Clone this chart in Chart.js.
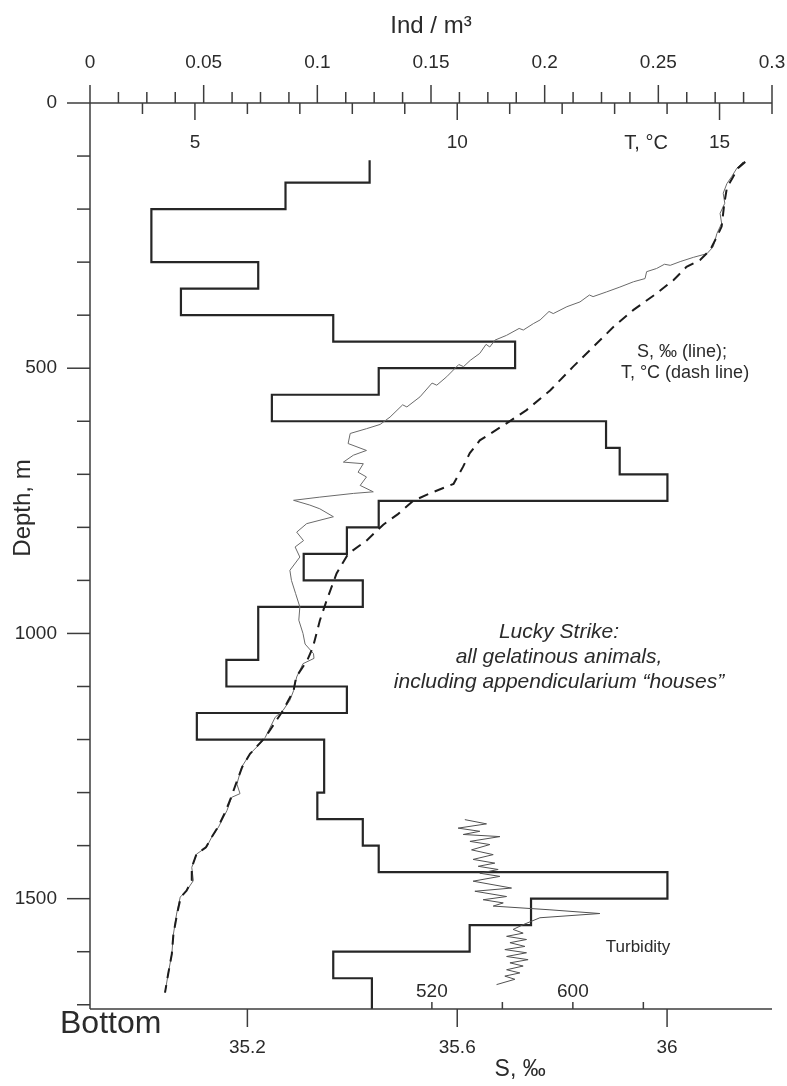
<!DOCTYPE html>
<html>
<head>
<meta charset="utf-8">
<script src="https://cdn.jsdelivr.net/npm/chart.js@4.4.1/dist/chart.umd.min.js"></script>
<style>
  html, body { margin: 0; padding: 0; background: #fff; }
  canvas { display: block; }
</style>
</head>
<body>
<canvas id="profile" width="787" height="1086"></canvas>
<script>
// Gelatinous animals, Ind/m³, per depth layer (top of each layer, m)
const binTops = [108, 150, 200, 300, 350, 400, 450, 500, 550, 600, 650, 700, 750, 800, 850,
                 900, 950, 1050, 1100, 1150, 1200, 1300, 1350, 1400, 1450, 1500, 1550, 1600, 1650];
const binBottom = 1708;
const indValues = [0.123, 0.086, 0.027, 0.074, 0.040, 0.107, 0.187, 0.127, 0.080, 0.227, 0.233, 0.254, 0.127, 0.113, 0.094,
                   0.120, 0.074, 0.060, 0.113, 0.047, 0.103, 0.100, 0.120, 0.127, 0.254, 0.194, 0.167, 0.107, 0.124];

// Salinity profile, ‰
const salDepth = [111, 123, 139, 152, 170, 189, 208, 227, 246, 271, 284, 291, 299, 306, 304, 312, 318, 331, 337, 347,
                  356, 365, 362, 375, 384, 397, 393, 409, 416, 428, 425, 438, 447, 460, 455, 472, 485, 497, 493, 516,
                  532, 528, 554, 573, 569, 592, 606, 614, 623, 642, 655, 664, 677, 680, 696, 705, 721, 733, 736, 743,
                  749, 758, 765, 780, 793, 809, 825, 837, 856, 881, 900, 925, 950, 975, 1000, 1020, 1038, 1047, 1057, 1082,
                  1108, 1126, 1145, 1158, 1196, 1208, 1227, 1252, 1284, 1302, 1309, 1334, 1365, 1384, 1403, 1416, 1441, 1466, 1485, 1497,
                  1529, 1567, 1604, 1642, 1677];
const salValues = [36.145, 36.133, 36.123, 36.114, 36.107, 36.110, 36.101, 36.104, 36.095, 36.088, 36.076, 36.050, 36.025, 36.006, 35.995, 35.980, 35.961, 35.958, 35.936, 35.910,
                   35.885, 35.859, 35.852, 35.834, 35.809, 35.783, 35.775, 35.758, 35.745, 35.726, 35.718, 35.694, 35.672, 35.662, 35.655, 35.643, 35.625, 35.612, 35.603, 35.580,
                   35.561, 35.552, 35.529, 35.504, 35.496, 35.472, 35.453, 35.427, 35.396, 35.392, 35.427, 35.402, 35.383, 35.421, 35.411, 35.427, 35.415, 35.440, 35.402, 35.338,
                   35.288, 35.319, 35.338, 35.364, 35.313, 35.294, 35.307, 35.291, 35.300, 35.281, 35.284, 35.292, 35.300, 35.298, 35.306, 35.310, 35.326, 35.327, 35.306, 35.294,
                   35.288, 35.281, 35.268, 35.253, 35.234, 35.224, 35.205, 35.189, 35.180, 35.186, 35.170, 35.161, 35.145, 35.132, 35.122, 35.103, 35.094, 35.097, 35.084, 35.072,
                   35.065, 35.059, 35.056, 35.049, 35.043];

// Temperature profile, °C
const tempDepth = [111, 123, 139, 160, 190, 233, 252, 277, 296, 309, 334, 359, 390, 422, 460, 497, 542, 579, 604, 636,
                   660, 686, 718, 736, 750, 775, 795, 825, 850, 887, 938, 976, 1026, 1051, 1082, 1108, 1145, 1196, 1227, 1252,
                   1284, 1309, 1334, 1365, 1384, 1403, 1416, 1441, 1466, 1485, 1497, 1529, 1567, 1604, 1642, 1677];
const tempValues = [15.49, 15.35, 15.26, 15.14, 15.09, 15.04, 14.95, 14.82, 14.63, 14.37, 14.12, 13.80, 13.36, 12.98, 12.59, 12.21, 11.77, 11.32, 10.94, 10.43,
                    10.24, 10.11, 9.93, 9.48, 9.16, 8.87, 8.59, 8.27, 7.92, 7.70, 7.51, 7.38, 7.25, 7.14, 6.93, 6.88, 6.68, 6.34, 6.05, 5.90,
                    5.78, 5.69, 5.59, 5.44, 5.32, 5.21, 5.03, 4.94, 4.94, 4.84, 4.73, 4.66, 4.59, 4.56, 4.49, 4.43];

// Turbidity near the bottom
const turbDepth = [1351, 1359, 1367, 1373, 1379, 1383, 1392, 1398, 1408, 1417, 1426, 1433, 1439, 1445, 1452, 1458, 1467, 1480, 1486, 1496,
                   1502, 1508, 1514, 1521, 1528, 1536, 1549, 1558, 1565, 1571, 1577, 1583, 1590, 1596, 1602, 1609, 1615, 1621, 1627, 1634,
                   1640, 1646, 1652, 1662];
const turbValues = [538.7, 551.0, 534.9, 547.2, 537.8, 558.6, 541.6, 552.9, 542.5, 554.8, 543.4, 555.7, 546.3, 557.6, 547.2, 558.6, 543.4, 565.2, 544.4, 562.4,
                    549.1, 560.5, 554.8, 587.0, 615.3, 581.3, 571.8, 566.1, 571.8, 562.4, 573.7, 564.3, 572.8, 561.4, 573.7, 562.4, 574.6, 564.3, 571.8, 562.4,
                    569.9, 561.4, 567.1, 556.7];

// Axis tick labels
const depthLabels = [0, 500, 1000, 1500];
const indLabels = ['0', '0.05', '0.1', '0.15', '0.2', '0.25', '0.3'];
const tempLabels = [5, 10, 15];
const salLabels = ['35.2', '35.6', '36'];
const turbLabels = [520, 600];

const FONT = '"Liberation Sans", Arial, Helvetica, sans-serif';
const INK = '#2b2b2b';

// Step outline: vertical run through each layer, horizontal jump at its lower boundary
const stepPoints = [];
binTops.forEach((top, i) => {
  const bottom = i + 1 < binTops.length ? binTops[i + 1] : binBottom;
  stepPoints.push({ x: indValues[i], y: top }, { x: indValues[i], y: bottom });
});
const pairs = (ys, xs) => ys.map((d, i) => ({ x: xs[i], y: d }));

function text(ctx, str, x, y, size, align, opts = {}) {
  ctx.save();
  ctx.font = (opts.italic ? 'italic ' : '') + size + 'px ' + FONT;
  ctx.fillStyle = INK;
  ctx.textAlign = align || 'center';
  ctx.textBaseline = 'middle';
  ctx.translate(x, y);
  if (opts.rotate) ctx.rotate(opts.rotate);
  ctx.fillText(str, 0, 0);
  ctx.restore();
}

const axesPlugin = {
  id: 'profileAxes',
  afterDraw(chart) {
    const { ctx, chartArea: a, scales: s } = chart;
    const seg = (x1, y1, x2, y2) => { ctx.beginPath(); ctx.moveTo(x1, y1); ctx.lineTo(x2, y2); ctx.stroke(); };
    ctx.save();
    ctx.strokeStyle = '#3c3c3c';
    ctx.lineWidth = 1.5;

    // frame lines: depth axis, top axis, bottom axis
    seg(a.left, a.top, a.left, a.bottom);
    seg(a.left, a.top, a.right, a.top);
    seg(a.left, a.bottom, a.right, a.bottom);

    // depth ticks every 100 m
    for (let d = 0; d <= 1700; d += 100) {
      const y = s.y.getPixelForValue(d);
      seg(a.left - (d % 500 === 0 ? 23 : 13), y, a.left, y);
    }
    depthLabels.forEach(d => text(ctx, String(d), a.left - 33, s.y.getPixelForValue(d), 19, 'right'));

    // Ind/m³ ticks (upwards) every 0.0125
    for (let k = 0; k <= 24; k++) {
      const x = s.xI.getPixelForValue(k * 0.0125);
      seg(x, a.top, x, a.top - (k % 4 === 0 ? 18 : 11));
    }
    indLabels.forEach(l => text(ctx, l, s.xI.getPixelForValue(parseFloat(l)), a.top - 40, 19));
    text(ctx, 'Ind / m³', (a.left + a.right) / 2, 26, 24);

    // temperature ticks (downwards) every 1 °C
    for (let t = 4; t <= 16; t++) {
      const x = s.xT.getPixelForValue(t);
      seg(x, a.top, x, a.top + (t % 5 === 0 ? 17 : 11));
    }
    tempLabels.forEach(t => text(ctx, String(t), s.xT.getPixelForValue(t), a.top + 40, 19));
    text(ctx, 'T, °C', s.xT.getPixelForValue(13.6), a.top + 40, 20);

    // salinity ticks (downwards) on the bottom axis
    salLabels.forEach(l => {
      const x = s.xS.getPixelForValue(parseFloat(l));
      seg(x, a.bottom, x, a.bottom + 18);
      text(ctx, l, x, a.bottom + 39, 19);
    });
    text(ctx, 'S, ‰', s.xS.getPixelForValue(35.72), a.bottom + 61, 23);

    // turbidity ticks (upwards) on the bottom axis
    for (let v = 520; v <= 640; v += 40) {
      const x = s.xTu.getPixelForValue(v);
      seg(x, a.bottom, x, a.bottom - 7);
    }
    turbLabels.forEach(v => text(ctx, String(v), s.xTu.getPixelForValue(v), a.bottom - 17, 19));
    text(ctx, 'Turbidity', s.xTu.getPixelForValue(637), s.y.getPixelForValue(1592), 17);

    // axis captions and annotations
    text(ctx, 'Depth, m', 23, 508, 24, 'center', { rotate: -Math.PI / 2 });
    text(ctx, 'Bottom', 60, a.bottom + 15, 32, 'left');
    text(ctx, 'S, ‰ (line);', 682, 352, 18);
    text(ctx, 'T, °C (dash line)', 685, 373, 18);
    text(ctx, 'Lucky Strike:', 559, 632, 21, 'center', { italic: true });
    text(ctx, 'all gelatinous animals,', 559, 657, 21, 'center', { italic: true });
    text(ctx, 'including appendicularium “houses”', 559, 682, 21, 'center', { italic: true });
    ctx.restore();
  }
};

const hidden = { type: 'linear', display: false };
new Chart(document.getElementById('profile').getContext('2d'), {
  type: 'scatter',
  data: {
    datasets: [
      { label: 'T', data: pairs(tempDepth, tempValues), xAxisID: 'xT', yAxisID: 'y', showLine: true,
        borderColor: '#1c1c1c', borderWidth: 2, borderDash: [10, 7], pointRadius: 0, fill: false },
      { label: 'S', data: pairs(salDepth, salValues), xAxisID: 'xS', yAxisID: 'y', showLine: true,
        borderColor: '#6a6a6a', borderWidth: 1, pointRadius: 0, fill: false },
      { label: 'Turbidity', data: pairs(turbDepth, turbValues), xAxisID: 'xTu', yAxisID: 'y', showLine: true,
        borderColor: '#505050', borderWidth: 1, pointRadius: 0, fill: false },
      { label: 'Ind/m³', data: stepPoints, xAxisID: 'xI', yAxisID: 'y', showLine: true,
        borderColor: '#262626', borderWidth: 2.2, pointRadius: 0, fill: false }
    ]
  },
  options: {
    responsive: false,
    animation: false,
    devicePixelRatio: 1,
    events: [],
    layout: { padding: { left: 90, top: 103, right: 15, bottom: 77 } },
    plugins: { legend: { display: false }, tooltip: { enabled: false } },
    scales: {
      x: { ...hidden, min: 0, max: 1 },
      y: { ...hidden, reverse: true, min: 0, max: binBottom },
      xI: { ...hidden, min: 0, max: 0.3 },
      xT: { ...hidden, min: 3, max: 16 },
      xS: { ...hidden, min: 34.9, max: 36.2 },
      xTu: { ...hidden, min: 326, max: 713 }
    }
  },
  plugins: [axesPlugin]
});
</script>
</body>
</html>
